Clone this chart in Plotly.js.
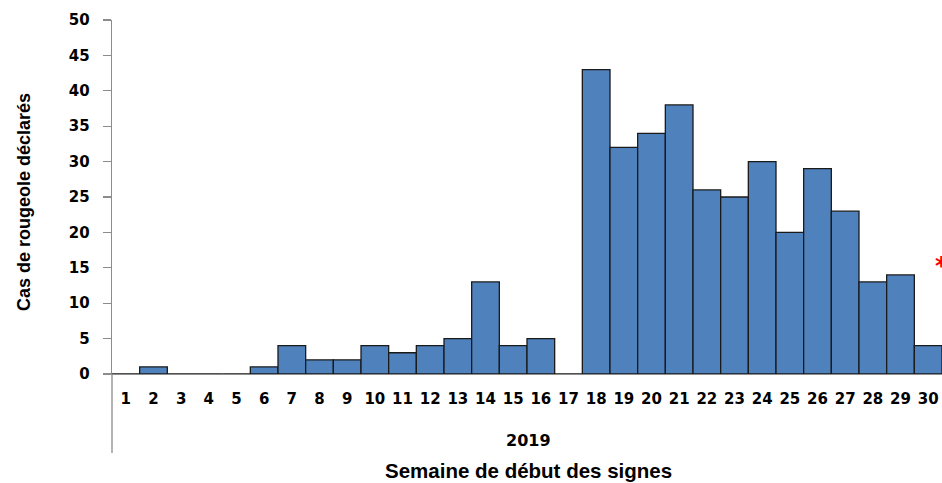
<!DOCTYPE html>
<html><head><meta charset="utf-8">
<script src="https://cdn.plot.ly/plotly-3.0.1.min.js"></script>
<style>html,body{margin:0;padding:0;background:#fff;}#chart{width:942px;height:483px;}</style>
</head><body><div id="chart"></div>
<script>
const weeks = [1,2,3,4,5,6,7,8,9,10,11,12,13,14,15,16,17,18,19,20,21,22,23,24,25,26,27,28,29,30];
const cases = [0,1,0,0,0,1,4,2,2,4,3,4,5,13,4,5,0,43,32,34,38,26,25,30,20,29,23,13,14,4];
const yTicks = [0,5,10,15,20,25,30,35,40,45,50];
const yearLabel = "2019";
const xTitle = "Semaine de début des signes";
const yTitle = "Cas de rougeole déclarés";
const noteMark = {y: 15.3, text: "*"};

const numFont = {family: "DejaVu Sans, Verdana, sans-serif", color: "#000", size: 15, weight: "bold"};
const txtFont = {family: "Liberation Sans, Arial, sans-serif", color: "#000"};
const data = [{
  type: "bar", x: weeks, y: cases,
  marker: {color: "#4F81BD", line: {color: "#1a1a1a", width: 1.3}},
  hoverinfo: "x+y"
}];
const layout = {
  width: 942, height: 483,
  margin: {l: 112, r: 0, t: 20, b: 109},
  paper_bgcolor: "#fff", plot_bgcolor: "#fff",
  bargap: 0, showlegend: false,
  xaxis: {
    range: [0.5, 30.5], tickmode: "array", tickvals: weeks, ticktext: weeks.map(String),
    showgrid: false, zeroline: false, showline: true, linecolor: "#8c8c8c", linewidth: 1.3,
    ticks: "", ticklabelstandoff: 11,
    tickfont: numFont
  },
  yaxis: {
    range: [0, 50], tickmode: "array", tickvals: yTicks,
    showgrid: false, zeroline: false, showline: true, linecolor: "#8c8c8c", linewidth: 1.3,
    ticks: "outside", ticklen: 8, tickcolor: "#8c8c8c", tickwidth: 1.3,
    ticklabelstandoff: 10,
    tickfont: numFont
  },
  shapes: [{type: "line", xref: "paper", yref: "paper", x0: 0, x1: 0, y0: 0, y1: -0.223,
            line: {color: "#8c8c8c", width: 1.3}}],
  annotations: [
    {xref: "paper", yref: "paper", x: 0.502, y: -0.189, text: "<b>" + yearLabel + "</b>", showarrow: false,
     font: Object.assign({}, numFont, {size: 16}), xanchor: "center", yanchor: "middle"},
    {xref: "paper", yref: "paper", x: 0.502, y: -0.273, text: "<b>" + xTitle + "</b>", showarrow: false,
     font: Object.assign({}, txtFont, {size: 20.5}), xanchor: "center", yanchor: "middle"},
    {xref: "paper", yref: "paper", x: -0.106, y: 0.486, text: "<b>" + yTitle + "</b>", showarrow: false,
     textangle: -90, font: Object.assign({}, txtFont, {size: 18}), xanchor: "center", yanchor: "middle"},
    {xref: "paper", yref: "y", x: 0.999, y: noteMark.y, text: "<b>" + noteMark.text + "</b>", showarrow: false,
     font: {family: "DejaVu Sans, Arial", size: 24, color: "#ff0000"}, xanchor: "center", yanchor: "middle"}
  ]
};
Plotly.newPlot("chart", data, layout, {displayModeBar: false, staticPlot: true});
</script></body></html>
